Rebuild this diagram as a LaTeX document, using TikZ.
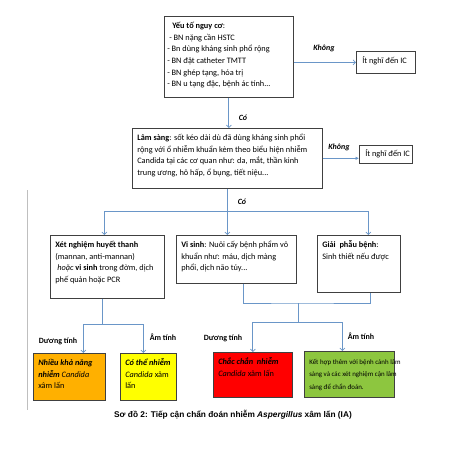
\documentclass[tikz,border=0pt]{standalone}
\usepackage{fontspec}
\setmainfont{Carlito}
\newfontfamily\capfont{Liberation Sans}
\usetikzlibrary{arrows.meta}

\definecolor{linkblue}{HTML}{6A96C8}
\definecolor{boxorange}{HTML}{FFB000}
\definecolor{boxyellow}{HTML}{FFFF00}
\definecolor{boxred}{HTML}{FF0000}
\definecolor{boxgreen}{HTML}{8DC63F}

\tikzset{
  box/.style={draw=black!75, line width=0.6pt, anchor=north west,
    inner xsep=5pt, inner ysep=4pt, font=\fontsize{8.3}{11.7}\selectfont},
  link/.style={draw=linkblue, line width=0.7pt},
  arr/.style={link, -{Straight Barb[length=2.5pt,width=5pt]}},
  arrfill/.style={link, -{Latex[length=3.5pt,width=3.5pt]}},
  tag/.style={font=\fontsize{8}{9}\selectfont\bfseries\itshape},
  res/.style={font=\fontsize{8}{9}\selectfont\bfseries}
}
% fixed size text cell, text at the top
\newcommand\cell[3]{\parbox[c][#2][t]{#1}{\begin{tabular}{@{}l@{}}#3\end{tabular}}}

\begin{document}
\begin{tikzpicture}[x=1pt,y=-1pt]
  \useasboundingbox (0,0) rectangle (458,459);
  \draw[black!25] (27,190) -- (27,410);

  % boxes
  \node[box, inner xsep=3pt] (risk) at (164,16) {\cell{123pt}{73pt}{%
    \hspace*{5pt}\textbf{Yếu tố nguy cơ}:\\
    \hspace*{2pt}- BN nặng cần HSTC\\
    - Bn dùng kháng sinh phổ rộng\\
    - BN đặt catheter TMTT\\
    - BN ghép tạng, hóa trị\\
    - BN u tạng đặc, bệnh ác tính...}};
  \node[box, inner xsep=6pt] (ic1) at (356,51) {\cell{47pt}{14pt}{Ít nghĩ đến IC}};

  \node[box] (clinic) at (132,128) {\cell{180pt}{52pt}{%
    \textbf{Lâm sàng}: sốt kéo dài dù đã dùng kháng sinh phổi\\
    rộng với ổ nhiễm khuẩn kèm theo biểu hiện nhiễm\\
    Candida tại các cơ quan như: da, mắt, thần kinh\\
    trung ương, hô hấp, ổ bụng, tiết niệu...}};
  \node[box, inner xsep=6pt, inner ysep=3pt] (ic2) at (359,145) {\cell{41pt}{12pt}{Ít nghĩ đến IC}};

  \node[box] (sero) at (50,235) {\cell{104pt}{55pt}{%
    \textbf{Xét nghiệm huyết thanh}\\
    (mannan, anti-mannan)\\
    \hspace*{2pt}\textit{hoặc} \textbf{vi sinh} trong đờm, dịch\\
    phế quản hoặc PCR}};
  \node[box] (micro) at (176,235) {\cell{110pt}{40pt}{%
    \textbf{Vi sinh}: Nuôi cấy bệnh phẩm vô\\
    khuẩn như: máu, dịch màng\\
    phổi, dịch não tủy...}};
  \node[box] (patho) at (317,235) {\cell{73pt}{49pt}{%
    \textbf{Giải\ \ phẫu bệnh}:\\
    Sinh thiết nếu được}};

  \node[box, fill=boxorange] (likely) at (33,353) {\cell{62pt}{39pt}{%
    \textbf{\textit{Nhiều khả năng}}\\
    \textbf{\textit{nhiễm}} \textit{Candida}\\
    xâm lấn}};
  \node[box, fill=boxyellow] (maybe) at (120,353) {\cell{46pt}{39pt}{%
    \textbf{\textit{Có thể nhiễm}}\\
    \textit{Candida} xâm\\
    lấn}};
  \node[box, fill=boxred] (sure) at (213,352) {\cell{69pt}{37pt}{%
    \textbf{\textit{Chắc chắn\ \ nhiễm}}\\
    \textit{Candida} xâm lấn}};
  \node[box, fill=boxgreen, font=\fontsize{6.9}{12.5}\selectfont] (combine) at (304,351) {\cell{80pt}{38pt}{%
    Kết hợp thêm với bệnh cảnh lâm\\
    sàng và các xét nghiệm cận lâm\\
    sàng để chẩn đoán.}};

  % labels
  \node[tag] (no1) at (324,48) {Không};
  \node[tag] (yes1) at (243,118) {Có};
  \node[tag] (no2) at (339,147) {Không};
  \node[tag] (yes2) at (242,202) {Có};
  \node[res] (pos1) at (58,341) {Dương tính};
  \node[res] (neg1) at (163,337) {Âm tính};
  \node[res] (pos2) at (223,338) {Dương tính};
  \node[res] (neg2) at (361,336) {Âm tính};

  % connectors
  \draw[arr] (risk.south) -- (risk.south |- clinic.north);
  \draw[arr] (risk.east |- ic1.west) -- (ic1.west);
  \draw[arrfill] (clinic.east) -- (clinic.east -| ic2.west);

  \coordinate (split) at ([yshift=-23pt]clinic.south);
  \draw[arr] (clinic.south) -- (split) -- (split |- micro.north);
  \draw[arr] (split) -| ([xshift=-3pt]sero.north);
  \draw[arr] (split) -| ([xshift=9.5pt]patho.north);

  \coordinate (seroknot) at ([xshift=-5pt,yshift=-26pt]sero.south);
  \draw[link] ([xshift=-5pt]sero.south) -- (seroknot);
  \draw[arr] (seroknot) -| ([xshift=14pt]likely.north);
  \draw[arr] (seroknot) -| ([xshift=-5pt]maybe.north);

  \coordinate (labjoin) at (298,303);
  \coordinate (labknot) at (298,322);
  \draw[link] ([xshift=7pt]micro.south) |- (labjoin) -| ([xshift=11.5pt]patho.south);
  \draw[link] (labjoin) -- (labknot);
  \draw[arr] (labknot) -| (sure.north);
  \draw[arr] (labknot) -| ([xshift=-7pt]combine.north);

  % caption
  \node[font=\capfont\fontsize{8.3}{10}\selectfont\bfseries] (caption) at (233,415)
    {Sơ đồ 2: Tiếp cận chẩn đoán nhiễm \textit{Aspergillus} xâm lấn (IA)};
\end{tikzpicture}
\end{document}
